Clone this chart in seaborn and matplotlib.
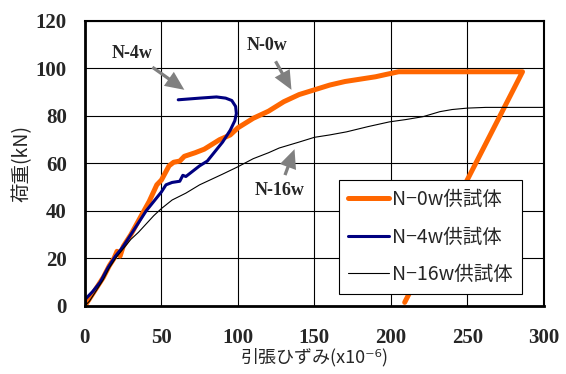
import matplotlib
matplotlib.use('Agg')
import matplotlib.pyplot as plt
import seaborn as sns
import pandas as pd

sns.set_style('white')
plt.rcParams['font.family'] = ['Noto Sans CJK JP', 'DejaVu Sans']

# ── Data (strain x10^-6, load kN) ─────────────────────────
n0_strain = [0, 3, 8, 12, 16, 19, 21, 23, 25, 30, 36, 42, 47, 50, 55, 58, 62, 65,
             72, 78, 83, 88, 95, 100, 110, 120, 130, 140, 150, 160, 170, 180,
             190, 197, 205, 286, 209]
n0_load = [0, 3, 8, 12, 17, 20, 23, 21, 25, 30, 37, 44, 51, 53, 59, 60.5, 61, 63,
           64.5, 66, 68, 70, 72, 75, 79, 82, 86, 89, 91, 93, 94.5, 95.5,
           96.5, 97.5, 98.6, 98.6, 1.5]

n4_strain = [0, 0.5, 5, 10, 15, 20, 25, 30, 35, 40, 45, 50, 53, 57, 62, 64, 66,
             70, 75, 80, 85, 90, 95, 98, 99, 98.5, 96, 92, 86, 75, 61]
n4_load = [0, 3, 6, 10, 16, 21, 25, 30, 35, 40, 44, 48, 51, 52, 52.5, 55, 54.5,
           56.5, 59, 61, 65, 69, 74, 78, 81, 84, 86.5, 87.5, 88, 87.5, 86.8]

n16_strain = [0, 3, 8, 12, 16, 20, 25, 30, 35, 40, 45, 50, 57, 66, 75, 80, 90,
              100, 110, 120, 127, 140, 150, 160, 171, 185, 199, 210, 221, 232,
              240, 250, 262, 300]
n16_load = [0, 2, 7, 11, 16, 20, 24, 28, 31, 34.5, 38, 41, 44.6, 47.5, 51, 52.5,
            55.5, 58.6, 62, 64.5, 66.5, 69, 71, 72, 73.3, 75.5, 77.5, 78.5, 79.7,
            81.8, 82.7, 83.3, 83.6, 83.6]

series = [
    ('N−0w供試体', n0_strain, n0_load, '#FF6600', 3.6),
    ('N−4w供試体', n4_strain, n4_load, '#000080', 2.2),
    ('N−16w供試体', n16_strain, n16_load, 'black', 0.8),
]

# ── Figure ────────────────────────────────────────────────
fig = plt.figure(figsize=(5.66, 3.74), dpi=100)
ax = fig.add_axes([0.150, 0.182, 0.811, 0.762])

for name, xs, ys, color, lw in series:
    df = pd.DataFrame({'x': xs, 'y': ys})
    sns.lineplot(data=df, x='x', y='y', sort=False, estimator=None, ax=ax,
                 color=color, linewidth=lw, label=name)

ax.set_xlim(0, 300)
ax.set_ylim(0, 120)
ax.set_xticks(range(0, 301, 50))
ax.set_yticks(range(0, 121, 20))
ax.grid(True, color='black', linewidth=0.8)
ax.set_axisbelow(True)
for side in ['left', 'bottom']:
    ax.spines[side].set_linewidth(2.0)
for side in ['right', 'top']:
    ax.spines[side].set_linewidth(1.5)
for sp in ax.spines.values():
    sp.set_color('black')

ax.tick_params(axis='both', length=0)
ax.tick_params(axis='x', pad=16)
ax.tick_params(axis='y', pad=13)
for lab in ax.get_xticklabels() + ax.get_yticklabels():
    lab.set_fontfamily('Liberation Serif')
    lab.set_fontweight('bold')
    lab.set_fontsize(15)

ax.set_xlabel('引張ひずみ(x10⁻⁶)', fontsize=13, labelpad=0)
ax.set_ylabel('荷重(kN)', fontsize=14, labelpad=2)

# annotations
arrow = dict(arrowstyle='simple,head_width=0.95,head_length=1.05,tail_width=0.18',
             color='#808080', lw=0, shrinkA=3, shrinkB=0)
ann_font = dict(family='Liberation Serif', weight='bold', fontsize=13)
ax.annotate('N-4w', xy=(65, 91), xytext=(31, 106.5), ha='center', va='center',
            arrowprops=arrow, **ann_font)
ax.annotate('N-0w', xy=(135, 91), xytext=(119, 109.5), ha='center', va='center',
            arrowprops=arrow, **ann_font)
ax.annotate('N-16w', xy=(137, 66), xytext=(127, 48.5), ha='center', va='center',
            arrowprops=arrow, **ann_font)

leg = ax.legend(loc='lower right', bbox_to_anchor=(0.952, 0.042), fontsize=14,
                frameon=True, fancybox=False, framealpha=1, edgecolor='black',
                handlelength=2.1, handletextpad=0.2, borderpad=0.45,
                labelspacing=0.85, borderaxespad=0)
leg.get_frame().set_linewidth(0.8)

fig.savefig('out.png', dpi=100)
